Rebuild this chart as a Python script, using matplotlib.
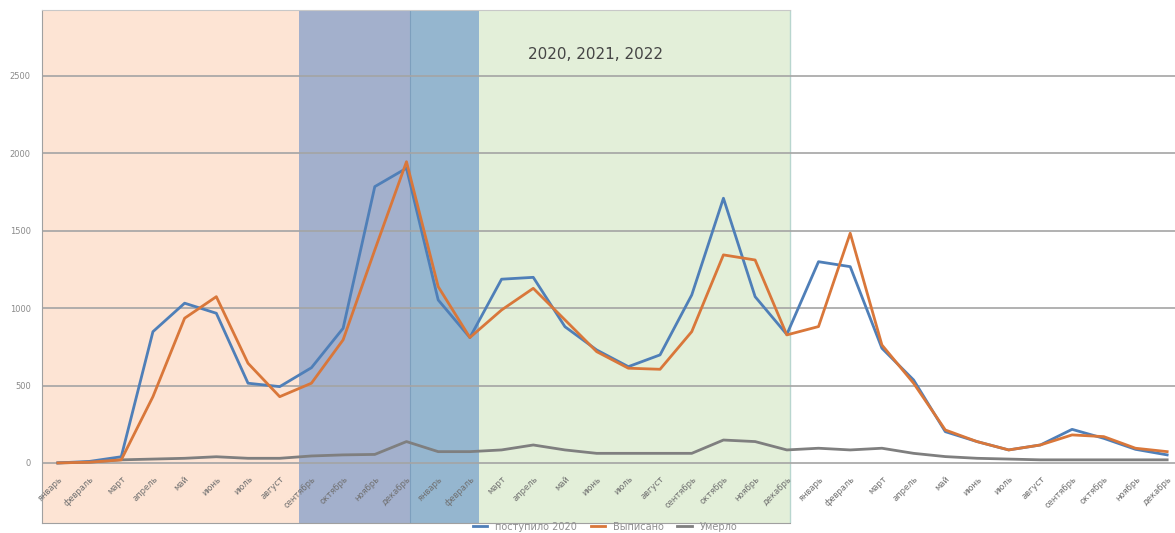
import matplotlib.pyplot as plt

plt.rcParams['font.family'] = ['DejaVu Sans']

# months Jan 2020 .. Dec 2022
month_names = ["январь", "февраль", "март", "апрель", "май", "июнь",
               "июль", "август", "сентябрь", "октябрь", "ноябрь", "декабрь"]
months = month_names * 3

admitted = [0, 10, 40, 848, 1032, 967, 515, 493, 615, 870, 1785, 1904,
            1053, 810, 1187, 1199, 880, 730, 622, 698, 1085, 1710, 1074, 830,
            1300, 1268, 741, 536, 202, 138, 84, 116, 217, 159, 88, 52]
discharged = [0, 5, 20, 428, 935, 1074, 644, 428, 515, 795, 1376, 1946,
              1139, 810, 988, 1128, 924, 719, 612, 605, 848, 1344, 1311, 827,
              881, 1484, 762, 515, 213, 138, 84, 116, 181, 170, 95, 73]
died = [0, 5, 20, 25, 30, 40, 30, 30, 45, 52, 55, 138,
        73, 73, 84, 116, 84, 62, 62, 62, 62, 148, 138, 84,
        95, 84, 95, 62, 41, 30, 25, 20, 20, 20, 20, 20]

series_labels = ["поступило 2020", "Выписано", "Умерло"]
yticks = [0, 500, 1000, 1500, 2000, 2500]

fig = plt.figure(figsize=(11.75, 5.33), dpi=100)
ax = fig.add_axes([42 / 1175, 10 / 533, 1141 / 1175, 513 / 533])

x = list(range(len(months)))

# shaded periods
ax.axvspan(-0.5, 7.62, color="#fde4d4", zorder=0, lw=0)
ax.axvspan(7.62, 11.1, color="#a3b0cc", zorder=0, lw=0)
ax.axvspan(11.1, 13.3, color="#95b6cf", zorder=0, lw=0)
ax.axvspan(13.3, 23.1, color="#e3efd9", zorder=0, lw=0)
ax.axvline(23.1, color="#b8d6cf", lw=1, zorder=0.5)
ax.axvline(11.1, color="#7d9fbd", lw=0.8, zorder=0.5)

for v in yticks:
    ax.axhline(v, color="#a4a4a4", lw=1.2, zorder=1)

l1, = ax.plot(x, admitted, color="#4f7fb8", lw=2.0, zorder=3)
l2, = ax.plot(x, discharged, color="#d9773a", lw=2.0, zorder=3)
l3, = ax.plot(x, died, color="#7f7f7f", lw=2.0, zorder=2)

ax.set_xlim(-0.5, 35.5)
ax.set_ylim(-388, 2926)
ax.set_xticks([])
ax.set_yticks(yticks)
ax.set_yticklabels([str(v) for v in yticks], fontsize=6, color="#8a8a8a")
ax.tick_params(axis='y', length=0, pad=8)

for i, m in enumerate(months):
    ax.text(i, -75, m, rotation=45, ha='right', va='top', rotation_mode='anchor',
            fontsize=6, color="#707070")

ax.spines["right"].set_visible(False)
ax.spines["left"].set_color("#a0a0a0")
ax.spines["top"].set_color("#c8c8c8")
ax.spines["bottom"].set_color("#a0a0a0")
ax.spines["top"].set_bounds(-0.5, 23.1)
ax.spines["bottom"].set_bounds(-0.5, 23.1)

ax.text(16.95, 2640, "2020, 2021, 2022", ha='center', va='center',
        fontsize=11, color="#454545")

fig.legend([l1, l2, l3], series_labels, loc='center', bbox_to_anchor=(0.515, 0.012),
           ncol=3, frameon=False, fontsize=7, handlelength=1.5,
           columnspacing=1.4, labelcolor="#909090")

fig.savefig("out.png", dpi=100)
